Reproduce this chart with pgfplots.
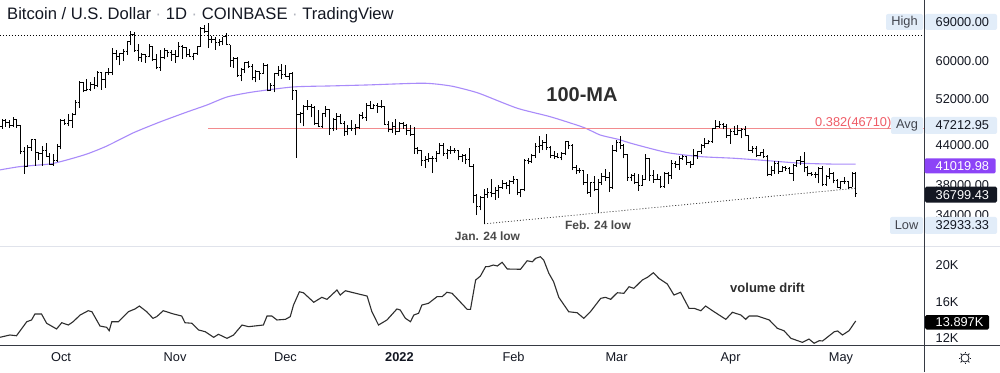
\documentclass[border=0pt]{standalone}
\usepackage{pgfplots}
\pgfplotsset{compat=1.18}
\usepackage{pgfplotstable}
\usepackage{fontspec}
\setmainfont{Liberation Sans}
\definecolor{tvtext}{HTML}{131722}
\definecolor{sepgray}{HTML}{B2B5BE}
\definecolor{panegray}{HTML}{E0E3EB}
\definecolor{maline}{HTML}{A98BFA}
\definecolor{mabox}{HTML}{8C44F7}
\definecolor{fibline}{HTML}{F28B8E}
\definecolor{fibtext}{HTML}{EF5B66}
\definecolor{boxblue}{HTML}{E2EDF9}
\definecolor{annot}{HTML}{2E2E2E}
\definecolor{annotgray}{HTML}{4A4A4A}

\pgfdeclareplotmark{ohlcopen}{\pgfpathmoveto{\pgfpoint{-1.7pt}{0pt}}\pgfpathlineto{\pgfpoint{0pt}{0pt}}\pgfusepathqstroke}
\pgfdeclareplotmark{ohlcclose}{\pgfpathmoveto{\pgfpoint{0pt}{0pt}}\pgfpathlineto{\pgfpoint{1.7pt}{0pt}}\pgfusepathqstroke}
\pgfdeclareplotmark{nothing}{}

% day index: 0 = 1 Oct 2021
\pgfplotstableread{
d o h l c
-16 47100 48470 46700 48140
-15 48140 48490 47070 47760
-14 47760 48160 46800 47300
-13 47300 48830 47050 48310
-12 48310 48370 46850 47250
-11 47250 47340 42500 43010
-10 43010 43640 39600 40700
-9 40700 44000 40570 43580
-8 43580 45000 43100 44880
-7 44880 45050 40800 42840
-6 42840 42960 41700 42720
-5 42720 43900 40800 43200
-4 43200 44350 42100 42200
-3 42200 42750 40900 41030
-2 41030 42600 40750 41520
-1 41520 44100 41400 43790
0 43790 48500 43300 48150
1 48150 48350 47430 47660
2 47660 49300 47100 48220
3 48220 49500 46900 49230
4 49230 51900 49050 51500
5 51500 55750 50400 55320
6 55320 55400 53400 53800
7 53800 56100 53600 53930
8 53930 55450 53700 54960
9 54960 56500 54100 54660
10 54660 57800 54400 57470
11 57470 57600 53900 56000
12 56000 57600 54300 57370
13 57370 58500 56900 57350
14 57350 62800 56900 61670
15 61670 62300 60200 60880
16 60880 61700 58950 61500
17 61500 62600 60000 62000
18 62000 64450 61300 64300
19 64300 67000 63500 66000
20 66000 66600 62000 62200
21 62200 63700 60000 60700
22 60700 61700 59700 61300
23 61300 61500 59500 60900
24 60900 63700 60700 63100
25 63100 63300 59900 60300
26 60300 61400 58100 58500
27 58500 62400 57800 60600
28 60600 62900 60300 62300
29 62300 62300 60800 61900
30 61900 62400 60000 61300
31 61300 62400 59500 61000
32 61000 64200 60700 63200
33 63200 63500 60400 62900
34 62900 63100 60700 61400
35 61400 62600 60800 61000
36 61000 61600 60100 61500
37 61500 63300 61300 63300
38 63300 67800 63100 67500
39 67500 68500 66300 66900
40 66900 69000 62800 64900
41 64900 65600 64100 64800
42 64800 65400 62400 64100
43 64100 64900 63400 64400
44 64400 65500 63600 65500
45 65500 66300 63500 63600
46 63600 63600 58600 60100
47 60100 60700 58400 60400
48 60400 60900 56500 56900
49 56900 58300 55600 58100
50 58100 59800 57400 59700
51 59700 60000 58500 58700
52 58700 59200 55800 56300
53 56300 58000 55400 57600
54 57600 57800 55900 57200
55 57200 59400 57100 58900
56 58900 59200 53600 53700
57 53700 55300 53700 54700
58 54700 57400 53400 57300
59 57300 58900 56800 57800
60 57800 59200 56000 57000
61 57000 59100 56500 56500
62 56500 57400 55900 57200
63 57200 57600 52000 53700
64 53700 53900 42000 49200
65 49200 49700 47700 49400
66 49400 50900 47100 50600
67 50600 51900 50000 50600
68 50600 51200 48700 50500
69 50500 50800 47400 47600
70 47600 50100 47000 47100
71 47100 49500 46800 49400
72 49400 50800 48700 50100
73 50100 50200 45700 46700
74 46700 48600 46300 48400
75 48400 49500 46500 48900
76 48900 49400 47500 47600
77 47600 48000 45500 46200
78 46200 47300 45600 46800
79 46800 48300 46400 46700
80 46700 47500 45600 46900
81 46900 49300 46700 49000
82 49000 49600 48500 48600
83 48600 51400 48100 50800
84 50800 51800 50400 50400
85 50400 51200 50200 50800
86 50800 51300 49500 50700
87 50700 52000 50500 50600
88 50600 50700 47400 47500
89 47500 48100 46100 46500
90 46500 47900 46000 47100
91 47100 48500 45700 46200
92 46200 47900 46200 47700
93 47700 47900 46700 47300
94 47300 47500 45700 46400
95 46400 47400 45500 45800
96 45800 47000 42600 43400
97 43400 43700 42500 43100
98 43100 43100 40700 41500
99 41500 42300 40500 41700
100 41700 42700 41300 41800
101 41800 42200 39700 41800
102 41800 43000 41300 42700
103 42700 44300 42500 43900
104 43900 44400 42300 42600
105 42600 43400 41800 43100
106 43100 43800 42600 43100
107 43100 43500 42700 43100
108 43100 43200 41600 42200
109 42200 42600 41300 42400
110 42400 42500 41100 41700
111 41700 43500 40600 40700
112 40700 41100 35500 36500
113 36500 36800 34000 35100
114 35100 36500 34600 36300
115 36300 37500 32933 36700
116 36700 37600 36200 37000
117 37000 38900 36300 36800
118 36800 37700 36000 37200
119 37200 38000 36200 37700
120 37700 38700 37500 38200
121 38200 38400 37400 37900
122 37900 38700 36700 38500
123 38500 39300 38100 38700
124 38700 38900 36600 36900
125 36900 37400 36300 37300
126 37300 41800 37100 41600
127 41600 42000 41100 41400
128 41400 42600 41200 42400
129 42400 44400 42000 43800
130 43800 45500 42700 44000
131 44000 44800 43200 44400
132 44400 45800 43200 43600
133 43600 43900 42000 42400
134 42400 43000 41800 42200
135 42200 42700 41900 42100
136 42100 42900 41600 42600
137 42600 44700 42400 44600
138 44600 44600 43300 43900
139 43900 44200 40100 40500
140 40500 40900 39500 40000
141 40000 40400 39700 40100
142 40100 40100 38000 38400
143 38400 39500 36800 37000
144 37000 38400 36400 38300
145 38300 39200 37100 37300
146 37300 38800 34322 38300
147 38300 39700 38000 39200
148 39200 40300 38600 39100
149 39100 39800 37000 37700
150 37700 44000 37500 43200
151 43200 44900 42900 44400
152 44400 45400 43300 44000
153 44000 44100 41900 42500
154 42500 42500 38600 39100
155 39100 39600 38600 39400
156 39400 39700 38100 38400
157 38400 39500 37200 37900
158 37900 39400 37900 38700
159 38700 42600 38700 41900
160 41900 41900 38600 39400
161 39400 40200 38300 38800
162 38800 39500 38700 38800
163 38800 39300 37600 37800
164 37800 39900 37600 39700
165 39700 39900 38100 39300
166 39300 41700 38900 41100
167 41100 41500 40500 40900
168 40900 42300 40200 41800
169 41800 42400 41700 42200
170 42200 42300 40900 41300
171 41300 41500 40500 41000
172 41000 43300 41000 42400
173 42400 43000 41800 42900
174 42900 44200 42600 44000
175 44000 45100 43600 44300
176 44300 44800 44100 44500
177 44500 46900 44400 46800
178 46800 48200 46700 47100
179 47100 48100 46900 47400
180 47400 47700 46600 47100
181 47100 47600 45200 45500
182 45500 46700 44200 46300
183 46300 47200 45600 45800
184 45800 47400 45600 46400
185 46400 46900 45100 46600
186 46600 47200 45400 45500
187 45500 45500 43100 43200
188 43200 43900 42800 43400
189 43400 43900 42100 42300
190 42300 42800 42200 42800
191 42800 43400 41900 42200
192 42200 42400 39200 39500
193 39500 40700 39300 40100
194 40100 41500 39600 41100
195 41100 41500 39600 39900
196 39900 40800 39800 40500
197 40500 40700 40000 40400
198 40400 40600 39600 39700
199 39700 41100 38600 40800
200 40800 41700 40600 41500
201 41500 42200 40900 41400
202 41400 42900 39800 40500
203 40500 40800 39200 39700
204 39700 39900 39300 39500
205 39500 39900 39000 39500
206 39500 40600 38200 40400
207 40400 40800 37800 38100
208 38100 39400 37900 39200
209 39200 40400 38900 39700
210 39700 39900 38200 38600
211 38600 38800 37600 37700
212 37700 38600 37400 38500
213 38500 39100 38100 38500
214 38500 38600 37500 37700
215 37700 39900 37700 39700
216 39700 39850 36400 36799
}\ohlc

\begin{document}
\begin{tikzpicture}[x=1pt,y=1pt]
\path[use as bounding box] (0,0) rectangle (1000,372);
\fill[white] (0,0) rectangle (1000,372);

% ---------------- price pane ----------------
\begin{axis}[
  at={(0pt,126pt)}, anchor=south west,
  width=924pt, height=246pt, scale only axis,
  xmin=-16.58, xmax=234.57,
  ymode=log, ymin=30361, ymax=75000,
  axis line style={draw=none},
  major tick length=0pt,
  xtick=\empty,
  ytick={34000,38000,44000,52000,60000},
  yticklabels={34000.00,38000.00,44000.00,52000.00,60000.00},
  yticklabel pos=right,
  yticklabel style={anchor=west, inner sep=0pt, xshift=11.5pt, text=tvtext,
    font=\fontsize{12.8}{14}\selectfont},
  clip=true,
]
% 100-day moving average
\addplot[maline, line width=1.1pt, smooth, tension=0.4] coordinates {
(-16.6,40150) (-11.2,40640) (-3.0,41040) (1.6,41650) (7.1,42580) (12.5,43850)
(19.6,46000) (26.9,47890) (34.3,49690) (39.7,50980) (45.2,52510) (52.2,53480)
(63.1,54470) (73.2,54670) (83.3,54870) (98.5,55220) (105.9,54670) (112,53580)
(114.8,52890) (124.1,50350) (133.1,48800) (142.0,46950) (146.5,45660)
(151.3,44950) (155.6,44170) (164.9,42780) (173.9,42160) (182.9,41910)
(192.1,41540) (201.1,41150) (210.1,41020) (216,41020)};
% 0.382 retracement
\addplot[fibline, line width=1.2pt] coordinates {(40,46710) (234.57,46710)};
% dotted level near the top
\addplot[black, line width=0.8pt, dash pattern=on 1pt off 2pt] coordinates {(-16.58,65950) (234.57,65950)};
% rising lows trendline
\addplot[black!75, line width=0.8pt, dash pattern=on 1pt off 2pt] coordinates {(115,32933) (216,37535)};
% OHLC bars: high-low range
\addplot[only marks, mark=nothing, black,
  error bars/.cd, y dir=plus, y explicit,
  error mark=none, error bar style={line width=1pt, black}]
  table[x=d, y=l, y error expr=\thisrow{h}-\thisrow{l}] {\ohlc};
% open ticks
\addplot[only marks, mark=ohlcopen, black, mark options={line width=1pt}] table[x=d, y=o] {\ohlc};
% close ticks
\addplot[only marks, mark=ohlcclose, black, mark options={line width=1pt}] table[x=d, y=c] {\ohlc};
\end{axis}

% ---------------- volume drift pane ----------------
\begin{axis}[
  at={(0pt,27pt)}, anchor=south west,
  width=924pt, height=98pt, scale only axis,
  xmin=-16.58, xmax=234.57,
  ymin=11.28, ymax=21.97,
  axis line style={draw=none},
  major tick length=0pt,
  xtick={0,31,61,92,123,151,182,212},
  xticklabels={Oct,Nov,Dec,\textbf{2022},Feb,Mar,Apr,May},
  xticklabel style={anchor=base, inner sep=0pt, yshift=-16.7pt, text=tvtext,
    font=\fontsize{12.8}{14}\selectfont},
  ytick={12,16,20},
  yticklabels={12K,16K,20K},
  yticklabel pos=right,
  yticklabel style={anchor=west, inner sep=0pt, xshift=11.5pt, text=tvtext,
    font=\fontsize{12.8}{14}\selectfont},
]
\addplot[annot, line width=1.1pt] coordinates {
(-16.6,12.12) (-13.9,12.37) (-12.1,12.29) (-9.3,13.82) (-8.0,14.01) (-7.1,14.66)
(-5.3,14.66) (-3.9,13.65) (-1.2,13.03) (0.2,13.71) (2.0,13.46) (3.3,13.82)
(5.2,14.55) (7.4,15.02) (8.4,14.91) (10.6,13.35) (12.4,13.21) (13.1,12.84)
(13.8,13.82) (15.6,13.82) (18.3,14.91) (20.1,15.21) (21.3,15.53) (23.3,14.91)
(25.0,14.19) (26.0,14.37) (27.8,15.02) (30.6,14.66) (32.8,14.44) (33.7,13.71)
(35.6,13.65) (37.4,12.92) (39.2,12.73) (41.5,12.12) (42.8,12.45) (45.1,12.01)
(46.9,12.37) (49.2,13.46) (51.0,13.28) (55.0,13.46) (56.0,14.44) (57.3,14.44)
(58.7,14.01) (61.0,14.08) (62.3,14.37) (63.2,15.64) (64.8,17.09) (65.9,16.98)
(68.7,15.94) (70.9,16.48) (72.3,16.26) (75.0,17.28) (75.9,16.73) (77.3,17.20)
(79.5,16.98) (83.2,16.62) (84.5,14.91) (86.3,13.46) (88.6,14.01) (91.3,15.21)
(92.2,15.10) (93.6,14.19) (95.0,13.82) (95.9,14.55) (97.2,14.74) (98.1,15.64)
(99.9,15.83) (102.2,16.55) (103.6,16.55) (104.9,17.03) (106.3,16.92) (110.4,15.17)
(111.3,15.17) (112.7,18.37) (114.0,18.80) (115.4,19.82) (116.3,19.84) (117.5,20.00)
(118.6,19.90) (119.9,20.30) (121.3,19.57) (124.9,19.54) (126.7,20.47) (128.1,20.36)
(129.0,20.73) (130.3,20.91) (131.2,20.55) (132.6,19.10) (133.9,18.18) (135.3,16.48)
(138.0,14.91) (140.3,14.80) (142.1,14.19) (143.9,14.91) (146.7,16.37) (148.0,16.48)
(149.4,16.26) (151.2,16.98) (153.0,16.92) (154.4,17.64) (155.7,17.46) (158.0,18.37)
(159.4,18.66) (161.0,19.16) (162.5,18.55) (164.8,17.93) (166.6,16.73) (168.4,17.03)
(170.7,15.28) (172.1,15.28) (173.9,15.02) (175.2,15.53) (177.5,14.91) (180.7,14.08)
(182.5,14.85) (184.8,14.55) (186.1,14.08) (187.0,14.44) (189.3,14.44) (192.5,14.01)
(194.7,13.10) (196.5,12.84) (198.4,12.01) (201.5,11.57) (203.3,11.93) (204.7,11.47)
(206.1,11.75) (207.0,11.72) (210.2,12.73) (211.1,12.81) (212.4,12.37) (214.2,12.84)
(216.0,13.897)};
\end{axis}

% ---------------- frame lines ----------------
\draw[panegray, line width=1pt] (0,125.5) -- (1000,125.5);
\draw[tvtext!85, line width=0.8pt] (0,27) -- (1000,27);
\draw[tvtext!85, line width=0.8pt] (924,0) -- (924,372);

% ---------------- title and annotations ----------------
\node[anchor=base west, inner sep=0pt, text=tvtext, font=\fontsize{16.6}{19}\selectfont]
  at (7,352) {Bitcoin / U.S. Dollar \textcolor{sepgray}{·} 1D \textcolor{sepgray}{·} COINBASE \textcolor{sepgray}{·} TradingView};
\node[text=annot, font=\fontsize{20}{24}\bfseries] at (582,277.7) {100-MA};
\node[text=annot, font=\fontsize{13}{15}\bfseries] at (767.4,83.7) {volume drift};
\node[text=annotgray, font=\fontsize{12}{14}\bfseries] at (487.5,135.3) {Jan. 24 low};
\node[text=annotgray, font=\fontsize{12}{14}\bfseries] at (598,147) {Feb. 24 low};
\node[anchor=west, inner sep=0pt, text=fibtext, font=\fontsize{12.8}{14}\selectfont] at (815,248.7) {0.382(46710)};

% ---------------- right scale boxes ----------------
\begin{scope}[font=\fontsize{12.8}{14}\selectfont]
\fill[boxblue, rounded corners=2pt] (886,342) rectangle (923,358);
\node[text=tvtext!80] at (904.5,350) {High};
\fill[boxblue, rounded corners=2pt] (925,342) rectangle (997,358);
\node[anchor=west, inner sep=0pt, text=tvtext] at (935.5,350) {69000.00};

\fill[boxblue, rounded corners=2pt] (891,238) rectangle (923,255);
\node[text=tvtext!80] at (907,246.5) {Avg};
\fill[boxblue, rounded corners=2pt] (925,238) rectangle (997,255);
\node[anchor=west, inner sep=0pt, text=tvtext] at (935.5,246.5) {47212.95};

\fill[mabox, rounded corners=1.5pt] (924.5,198.7) rectangle (995.7,213.7);
\node[anchor=west, inner sep=0pt, text=white] at (935.5,206.2) {41019.98};

\fill[tvtext, rounded corners=1.5pt] (925,169.3) rectangle (997,185.3);
\node[anchor=west, inner sep=0pt, text=white] at (935.5,177.3) {36799.43};

\fill[boxblue, rounded corners=2pt] (890,138) rectangle (923,155);
\node[text=tvtext!80] at (906.5,146.5) {Low};
\fill[boxblue, rounded corners=2pt] (925,138) rectangle (997,155);
\node[anchor=west, inner sep=0pt, text=tvtext] at (935.5,146.5) {32933.33};

\fill[black, rounded corners=1.5pt] (925,42.5) rectangle (989,57);
\node[anchor=west, inner sep=0pt, text=white] at (935.5,49.75) {13.897K};
\end{scope}

% settings icon
\begin{scope}[shift={(965,14)}, tvtext, line width=0.8pt]
\draw (0,0) circle (4);
\foreach \a in {0,45,...,315} \draw (\a:4.6) -- (\a:6.2);
\end{scope}
\end{tikzpicture}
\end{document}
